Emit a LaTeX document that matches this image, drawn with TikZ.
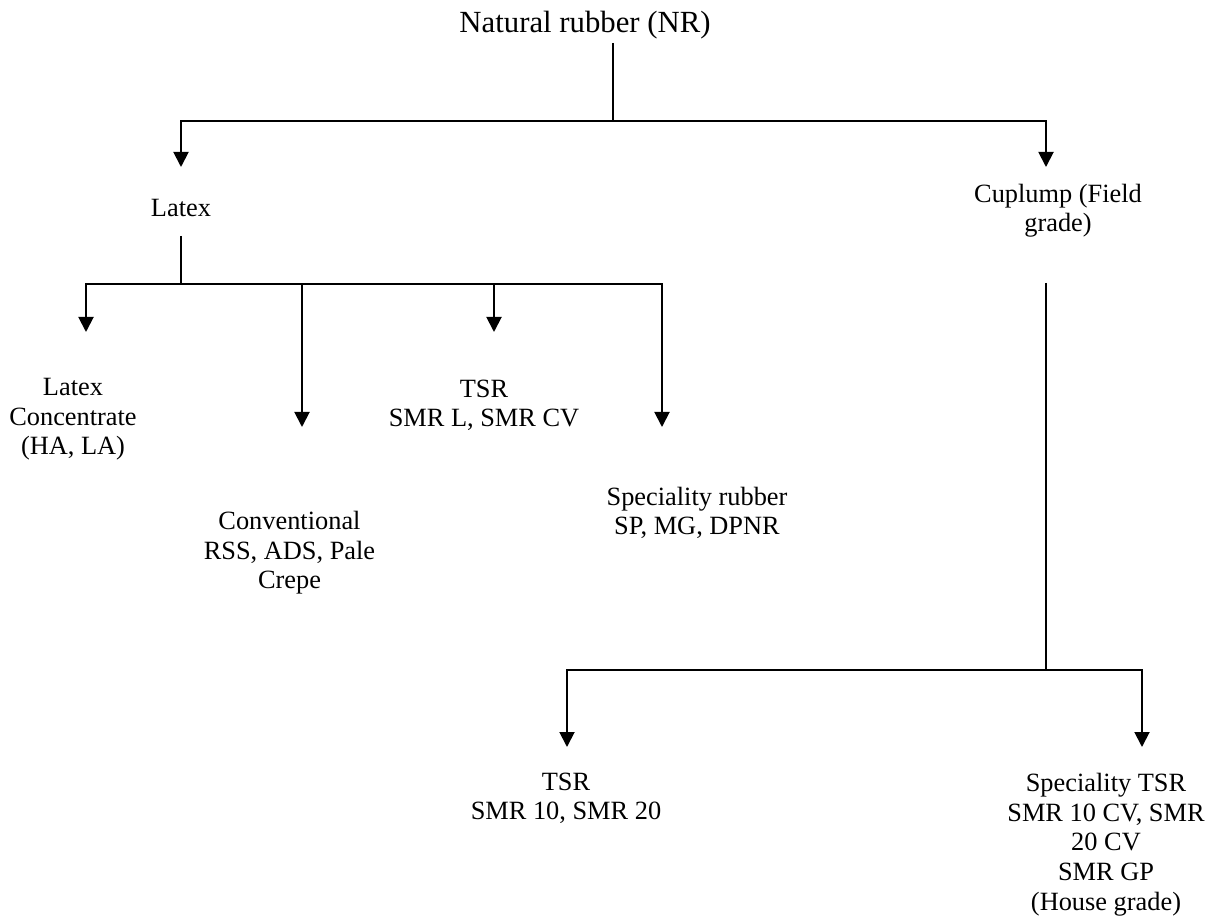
\documentclass[tikz,border=0pt]{standalone}
\usepackage{fontspec}
\setmainfont{Liberation Serif}
\usetikzlibrary{arrows.meta}
\tikzset{
  link/.style={line width=1.1pt},
  down/.style={link,-{Triangle[width=0.3cm,length=0.3cm]}},
  grade/.style={align=center,inner sep=0pt,anchor=base,font=\fontsize{15}{16.8}\selectfont},
}
\begin{document}
\begin{tikzpicture}
  \useasboundingbox (0,0) rectangle (24.5,-18.4);
  \node[grade,font=\fontsize{17.5}{20}\selectfont] (nr) at (11.7,-0.66) {Natural rubber (NR)};
  \node[grade] (latex) at (3.62,-4.33) {Latex};
  \node[grade] (cuplump) at (21.16,-4.64) {Cuplump (Field\\grade)};
  \node[grade] (conc) at (1.46,-9.10) {Latex\\Concentrate\\(HA, LA)};
  \node[grade] (conv) at (5.79,-11.78) {Conventional\\RSS, ADS, Pale\\Crepe};
  \node[grade] (tsrl) at (9.68,-8.54) {TSR\\SMR L, SMR CV};
  \node[grade] (sprub) at (13.94,-10.70) {Speciality rubber\\SP, MG, DPNR};
  \node[grade] (tsrf) at (11.32,-16.4) {TSR\\SMR 10, SMR 20};
  \node[grade] (sptsr) at (22.12,-18.2) {Speciality TSR\\SMR 10 CV, SMR\\20 CV\\SMR GP\\(House grade)};
  \coordinate (nrout) at (12.26,-0.86);
  \coordinate (nrfork) at (12.26,-2.42);
  \coordinate (latexin) at (3.62,-3.34);
  \coordinate (cupin) at (20.92,-3.34);
  \coordinate (latexout) at (3.62,-4.72);
  \coordinate (latexfork) at (3.62,-5.68);
  \coordinate (concin) at (1.72,-6.64);
  \coordinate (convin) at (6.04,-8.54);
  \coordinate (tsrlin) at (9.88,-6.64);
  \coordinate (sprubin) at (13.24,-8.54);
  \coordinate (cupout) at (20.92,-5.66);
  \coordinate (cupfork) at (20.92,-13.4);
  \coordinate (tsrfin) at (11.34,-14.94);
  \coordinate (sptsrin) at (22.84,-14.94);
  \draw[link] (nrout) -- (nrfork);
  \draw[down] (nrfork) -| (latexin);
  \draw[down] (nrfork) -| (cupin);
  \draw[link] (latexout) -- (latexfork);
  \foreach \t in {concin,convin,tsrlin,sprubin}
    \draw[down] (latexfork) -| (\t);
  \draw[link] (cupout) -- (cupfork);
  \draw[down] (cupfork) -| (tsrfin);
  \draw[down] (cupfork) -| (sptsrin);
\end{tikzpicture}
\end{document}
